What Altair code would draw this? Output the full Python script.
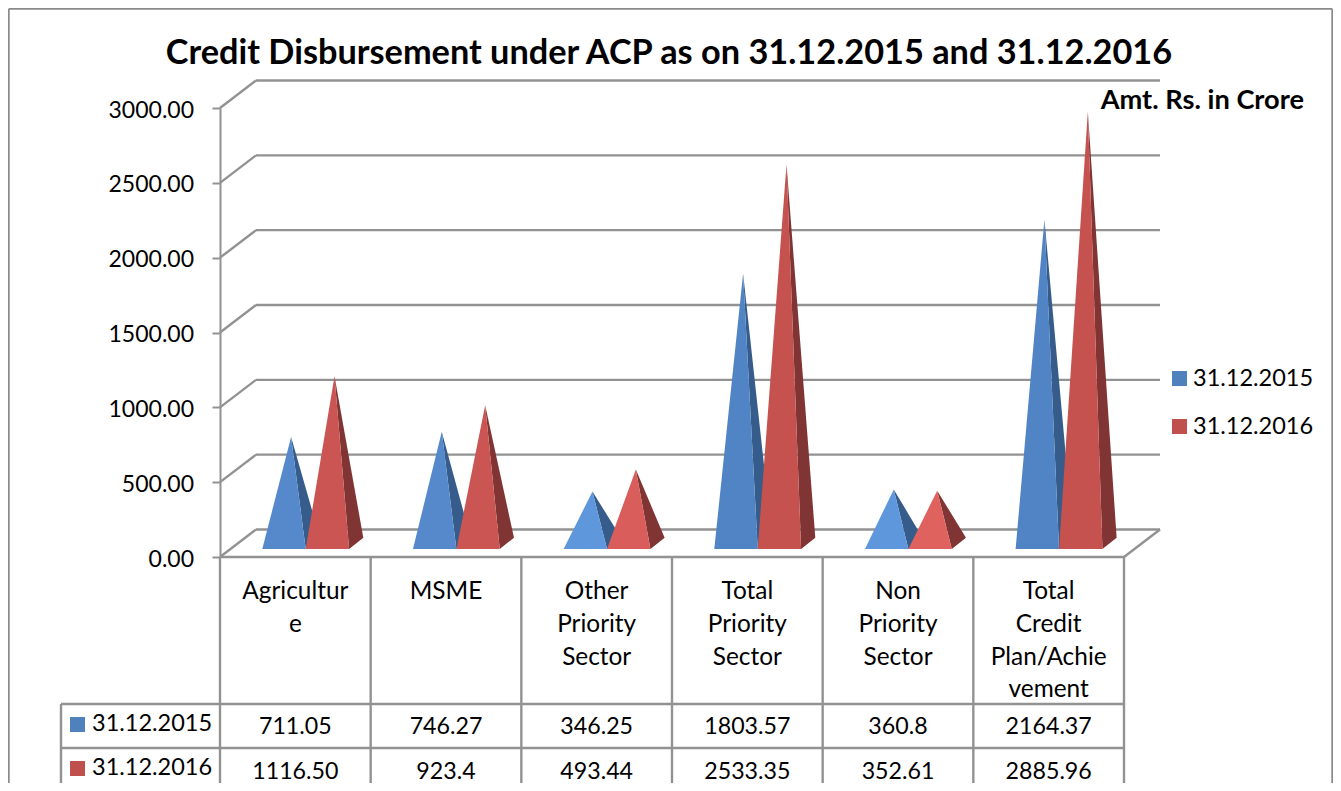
import altair as alt
import pandas as pd

categories = ["Agricultur\ne", "MSME", "Other\nPriority\nSector", "Total\nPriority\nSector",
              "Non\nPriority\nSector", "Total\nCredit\nPlan/Achie\nvement"]
series_names = ["31.12.2015", "31.12.2016"]
values_2015 = [711.05, 746.27, 346.25, 1803.57, 360.8, 2164.37]
values_2016 = [1116.50, 923.4, 493.44, 2533.35, 352.61, 2885.96]
labels_2015 = ["711.05", "746.27", "346.25", "1803.57", "360.8", "2164.37"]
labels_2016 = ["1116.50", "923.4", "493.44", "2533.35", "352.61", "2885.96"]
y_ticks = [0, 500, 1000, 1500, 2000, 2500, 3000]
title_text = "Credit Disbursement under ACP as on 31.12.2015 and 31.12.2016"
unit_text = "Amt. Rs. in Crore"

front_2015 = ["#5589CB", "#5589CB", "#5F97DC", "#5084C4", "#5F97DC", "#5084C4"]
front_2016 = ["#CB5552", "#CB5552", "#D95D5A", "#C5524F", "#DF625E", "#C5524F"]
side_2015 = "#355C8A"
side_2016 = "#803434"
key_2015 = "#4F81BD"
key_2016 = "#C0504D"
line_color = "#929292"
font = "Lato"

# image pixels -> scale units
LEFT, FLOOR, TOP = 220, 557, 108
CAT_W = 904 / 6
UNIT = 449 / 3000
BOTTOM_EDGE = 783
RIGHT_EDGE = 1332.2


def X(px):
    return (px - LEFT) / CAT_W


def Y(px):
    return (FLOOR - px) / UNIT


wall_dx, wall_dy = 36 / CAT_W, 27.5 / UNIT
gap, pyr_w = 42.3 / CAT_W, 43.4 / CAT_W
depth_dx = 14.2 / CAT_W
base_front, base_mid, base_back = 8 / UNIT, 13.6 / UNIT, 19.3 / UNIT

# walls and table lines
seg = []
for t in y_ticks:
    seg.append((0, t, wall_dx, t + wall_dy))
    seg.append((wall_dx, t + wall_dy, 6 + wall_dx, t + wall_dy))
seg.append((0, 0, 6, 0))
seg.append((6, 0, 6 + wall_dx, wall_dy))
for i in range(7):
    seg.append((i, 0, i, Y(BOTTOM_EDGE)))
seg.append((X(61), Y(704), 6, Y(704)))
seg.append((X(61), Y(748), 6, Y(748)))
seg.append((X(61), Y(704), X(61), Y(BOTTOM_EDGE)))
segments = pd.DataFrame(seg, columns=["x", "y", "x2", "y2"])

frame = pd.DataFrame([
    (X(8.8), Y(8.8), X(RIGHT_EDGE), Y(8.8)),
    (X(8.8), Y(8.8), X(8.8), Y(BOTTOM_EDGE)),
    (X(RIGHT_EDGE), Y(8.8), X(RIGHT_EDGE), Y(BOTTOM_EDGE)),
], columns=["x", "y", "x2", "y2"])

# pyramids
rows = []
pid = 0
for i in range(6):
    for s, (vals, fronts, side) in enumerate([(values_2015, front_2015, side_2015),
                                              (values_2016, front_2016, side_2016)]):
        x0 = i + gap + s * pyr_w
        x1 = x0 + pyr_w
        apex_x = (x0 + x1) / 2 + depth_dx / 2
        apex_y = vals[i] + base_mid
        # side face: upper edge runs from apex to the rear corner
        bx, by = x1 + depth_dx, base_back
        upper = apex_y + (by - apex_y) * (x1 - apex_x) / (bx - apex_x)
        for px, py, py2 in [(apex_x, apex_y, apex_y), (x1, upper, base_front), (bx, by, by)]:
            rows.append(dict(id=pid, x=px, y=py, y2=py2, fill=side))
        pid += 1
        for px, py in [(x0, base_front), (apex_x, apex_y), (x1, base_front)]:
            rows.append(dict(id=pid, x=px, y=py, y2=base_front, fill=fronts[i]))
        pid += 1
faces = pd.DataFrame(rows)

cat_text = pd.DataFrame({"x": [i + 0.5 for i in range(6)], "y": Y(580), "t": categories})
row_text = pd.DataFrame(
    {"x": [i + 0.5 for i in range(6)] * 2,
     "y": [Y(726.5)] * 6 + [Y(771.5)] * 6,
     "t": labels_2015 + labels_2016})
key_text = pd.DataFrame({"x": [X(92), X(92), X(1193), X(1193)],
                         "y": [Y(724), Y(768), Y(379), Y(427)],
                         "t": series_names * 2})
keys = pd.DataFrame({"x": [X(77.5), X(77.5), X(1179.5), X(1179.5)],
                     "y": [Y(724.5), Y(768.5), Y(378.5), Y(426.5)],
                     "fill": [key_2015, key_2016, key_2015, key_2016]})
title_df = pd.DataFrame({"x": [X(669)], "y": [Y(54)], "t": [title_text]})
unit_df = pd.DataFrame({"x": [X(1304)], "y": [Y(101)], "t": [unit_text]})

y_scale = alt.Scale(domain=[0, 3000], nice=False, zero=False)
y_axis = alt.Axis(values=y_ticks, format=".2f", tickSize=8, tickWidth=2, tickColor=line_color,
                  domainColor=line_color, domainWidth=2, grid=False, labelFont=font,
                  labelFontSize=23, labelColor="#000000", labelPadding=18.5, labelOffset=2, title=None)
x_enc = alt.X("x:Q", scale=alt.Scale(domain=[0, 6], nice=False, zero=False), axis=None)
y_enc = alt.Y("y:Q", scale=y_scale, axis=y_axis, stack=None)

grid = alt.Chart(segments).mark_rule(color=line_color, strokeWidth=2.4).encode(
    x=x_enc, x2="x2:Q", y=y_enc, y2="y2:Q")
frame_layer = alt.Chart(frame).mark_rule(color="#8A8A8A", strokeWidth=1.8).encode(
    x=x_enc, x2="x2:Q", y=y_enc, y2="y2:Q")
pyramids = alt.Chart(faces).mark_area(interpolate="linear", clip=False).encode(
    x=x_enc, y=y_enc, y2="y2:Q", detail="id:N", color=alt.Color("fill:N", scale=None))


def text_layer(df, size, **kw):
    return alt.Chart(df).mark_text(font=font, fontSize=size, color="#000000", **kw).encode(
        x=x_enc, y=y_enc, text="t:N")


layers = [
    frame_layer, grid, pyramids,
    text_layer(cat_text, 24.4, lineBreak="\n", lineHeight=32.8, baseline="top", align="center"),
    text_layer(row_text, 23.2, align="center", baseline="middle"),
    text_layer(key_text, 23.5, align="left", baseline="middle"),
    alt.Chart(keys).mark_square(size=225, opacity=1).encode(
        x=x_enc, y=y_enc, color=alt.Color("fill:N", scale=None)),
    text_layer(title_df, 34.3, fontWeight="bold", align="center", baseline="middle"),
    text_layer(unit_df, 27.2, fontWeight="bold", align="right", baseline="middle"),
]

chart = alt.layer(*layers).properties(
    width=904, height=449,
    autosize=alt.AutoSizeParams(type="none"),
    padding={"left": 212, "top": 100, "right": 209, "bottom": 226},
    background="#FFFFFF",
).configure_view(stroke=None)

chart.save("out.html", embed_options={"renderer": "svg", "actions": False})
